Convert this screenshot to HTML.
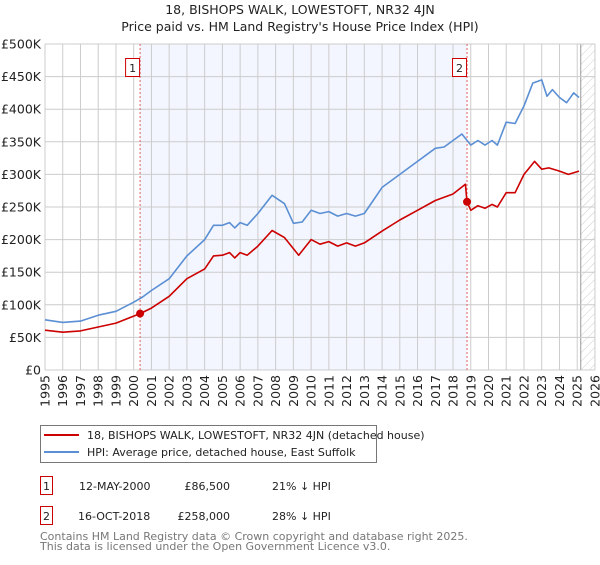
<!DOCTYPE html>
<html><head><meta charset="utf-8"><style>
body{margin:0;background:#fff;font-family:"Liberation Sans","DejaVu Sans",sans-serif}
svg text{font-family:"DejaVu Sans","Liberation Sans",sans-serif}
</style></head><body>
<svg id="chart" width="600" height="560" xmlns="http://www.w3.org/2000/svg">
<defs><pattern id="hatch" width="6" height="6" patternUnits="userSpaceOnUse" patternTransform="rotate(45)"><line x1="0" y1="0" x2="0" y2="6" stroke="#ccc" stroke-width="1"/></pattern></defs>
<text x="300" y="14" text-anchor="middle" font-size="12.5" fill="#222">18, BISHOPS WALK, LOWESTOFT, NR32 4JN</text>
<text x="300" y="31" text-anchor="middle" font-size="12.5" fill="#222">Price paid vs. HM Land Registry's House Price Index (HPI)</text>
<g id="grid"></g><g id="series"></g><g id="axes"></g>
<g>
<rect x="40.5" y="425.5" width="336" height="37" fill="#fff" stroke="#777"/>
<line x1="44" y1="435" x2="79" y2="435" stroke="#cc0000" stroke-width="2"/>
<text x="87" y="439" font-size="11" fill="#222">18, BISHOPS WALK, LOWESTOFT, NR32 4JN (detached house)</text>
<line x1="44" y1="452" x2="79" y2="452" stroke="#5b8fd4" stroke-width="2"/>
<text x="87" y="456" font-size="11" fill="#222">HPI: Average price, detached house, East Suffolk</text>
</g>
<g font-size="11" fill="#222">
<rect x="40.5" y="476.5" width="12" height="18" fill="#fff" stroke="#cc0000"/>
<text x="46.5" y="490" text-anchor="middle" fill="#222">1</text>
<text x="79" y="490" fill="#222">12-MAY-2000</text>
<text x="230" y="490" text-anchor="end" fill="#222">£86,500</text>
<text x="272" y="490" fill="#222">21% ↓ HPI</text>
<rect x="40.5" y="506.5" width="12" height="18" fill="#fff" stroke="#cc0000"/>
<text x="46.5" y="520" text-anchor="middle" fill="#222">2</text>
<text x="78" y="520" fill="#222">16-OCT-2018</text>
<text x="230" y="520" text-anchor="end" fill="#222">£258,000</text>
<text x="272" y="520" fill="#222">28% ↓ HPI</text>
</g>
<text x="40" y="540" font-size="11" fill="#777">Contains HM Land Registry data © Crown copyright and database right 2025.</text>
<text x="40" y="550" font-size="11" fill="#777">This data is licensed under the Open Government Licence v3.0.</text>
</svg>
<script>
const hpiYears=[1995,1996,1997,1998,1999,2000,2000.5,2001,2002,2003,2004,2004.5,2005,2005.4,2005.7,2006,2006.4,2007,2007.8,2008.5,2009,2009.5,2010,2010.5,2011,2011.5,2012,2012.5,2013,2013.5,2014,2015,2016,2017,2017.5,2018.5,2019,2019.4,2019.8,2020.2,2020.5,2021,2021.5,2022,2022.5,2023,2023.3,2023.6,2024,2024.4,2024.8,2025.1];
const hpiValues=[77,73,75,84,90,104,112,122,140,175,200,222,222,226,218,226,222,240,268,255,225,227,245,240,243,236,240,236,240,260,280,300,320,340,342,362,345,352,345,352,345,380,378,405,440,445,420,430,418,410,425,418];
const propYears=[1995,1996,1997,1998,1999,2000.36,2001,2002,2003,2004,2004.5,2005,2005.4,2005.7,2006,2006.4,2007,2007.8,2008.5,2009.3,2010,2010.5,2011,2011.5,2012,2012.5,2013,2014,2015,2016,2017,2018,2018.7,2018.79,2019,2019.4,2019.8,2020.2,2020.5,2021,2021.5,2022,2022.6,2023,2023.4,2024,2024.5,2025.1];
const propValues=[61,58,60,66,72,86.5,95,113,140,155,175,176,180,172,180,176,190,214,203,176,200,193,197,190,195,190,195,213,230,245,260,270,285,258,245,252,248,254,250,272,272,300,320,308,310,305,300,305];
const saleYears=[2000.36,2018.79];
const saleValues=[86.5,258];
const yTicks=[0,50,100,150,200,250,300,350,400,450,500];
const yLabels=["£0","£50K","£100K","£150K","£200K","£250K","£300K","£350K","£400K","£450K","£500K"];
const xTicks=[1995,1996,1997,1998,1999,2000,2001,2002,2003,2004,2005,2006,2007,2008,2009,2010,2011,2012,2013,2014,2015,2016,2017,2018,2019,2020,2021,2022,2023,2024,2025,2026];
const NS="http://www.w3.org/2000/svg";
const X=y=>45+(y-1995)*17.74, Y=v=>370-v*0.652;
function mk(t,a,p){const e=document.createElementNS(NS,t);for(const k in a)e.setAttribute(k,a[k]);p.appendChild(e);return e;}
const grid=document.getElementById('grid'),ser=document.getElementById('series'),ax=document.getElementById('axes');
let r=mk('rect',{x:X(saleYears[0]),y:44,width:X(saleYears[1])-X(saleYears[0]),height:326,fill:'#f3f6fe'},grid);


let h=mk('rect',{x:X(2025.2),y:44,width:X(2026)-X(2025.2),height:326,fill:'url(#hatch)'},grid);


mk('line',{x1:X(2025.2),y1:44,x2:X(2025.2),y2:370,stroke:'#999','stroke-width':1},grid);
yTicks.forEach((v,i)=>{
 const l=mk('line',{x1:45,x2:595,y1:Y(v),y2:Y(v),stroke:'#ccc','stroke-width':1},grid);
 
 
 const t=mk('text',{x:41,y:Y(v)+4.5,'text-anchor':'end','font-size':'12.5',fill:'#222'},ax);
 t.textContent=yLabels[i];
 
 
});
xTicks.forEach(y=>{
 const l=mk('line',{x1:X(y),x2:X(y),y1:44,y2:370,stroke:'#ccc','stroke-width':1},grid);
 
 
 const t=mk('text',{x:0,y:0,'text-anchor':'end','font-size':'12.5',fill:'#222',transform:`translate(${X(y)+4.5},375) rotate(-90)`},ax);
 t.textContent=y;
 
 
});
saleYears.forEach((y,i)=>{
 const l=mk('line',{x1:X(y),x2:X(y),y1:44,y2:370,stroke:'#e06060','stroke-width':1,'stroke-dasharray':'2,2'},grid);
 
 
 const b=mk('rect',{x:X(y)-14.5,y:58.5,width:14,height:18,fill:'#fff',stroke:'#cc0000'},ax);
 
 
 const t=mk('text',{x:X(y)-7.5,y:72,'text-anchor':'middle','font-size':'11',fill:'#222'},ax);
 t.textContent=String(i+1);
 
 
});
function path(xs,vs,c,name){
 const p=mk('path',{d:xs.map((x,i)=>(i?'L':'M')+X(x).toFixed(1)+','+Y(vs[i]).toFixed(1)).join(''),fill:'none',stroke:c,'stroke-width':1.6,'stroke-linejoin':'round'},ser);
 
 
}
path(hpiYears,hpiValues,'#5b8fd4','hpi-line');
path(propYears,propValues,'#cc0000','property-price-line');
saleYears.forEach((y,i)=>{
 const c=mk('circle',{cx:X(y),cy:Y(saleValues[i]),r:4,fill:'#cc0000'},ser);
 
 
});
</script>
</body></html>
